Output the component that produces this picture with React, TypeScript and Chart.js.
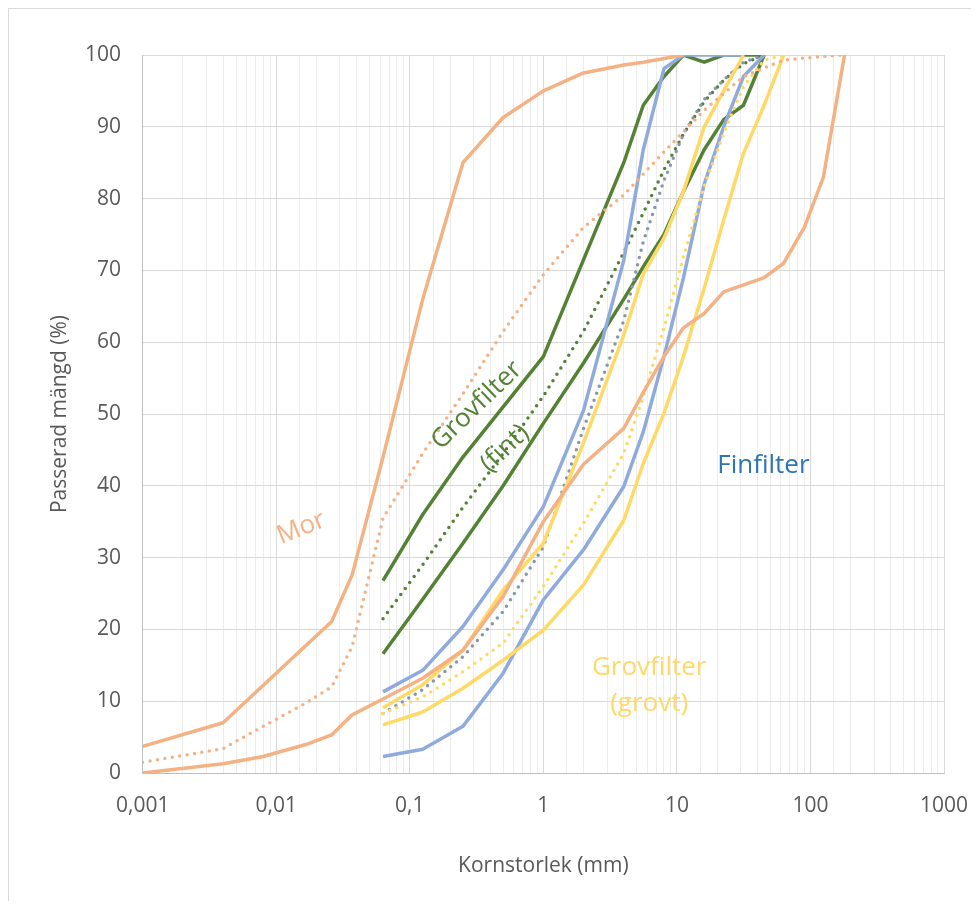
import React, { useEffect, useRef } from "react";
import { Chart, registerables } from "chart.js";

Chart.register(...registerables);

// ---- axis ticks ----
const xTickValues = [0.001, 0.01, 0.1, 1, 10, 100, 1000];
const xTickLabels = ["0,001", "0,01", "0,1", "1", "10", "100", "1000"];
const yMin = 0;
const yMax = 100;
const yStep = 10;

// ---- Mor (till) ----
const morFineSize = [0.001, 0.004, 0.026, 0.037, 0.063, 0.125, 0.25, 0.5, 1, 2, 4, 5.6, 11.2];
const morFineValue = [3.7, 7.0, 21.1, 27.6, 44, 66, 85, 91.3, 95, 97.5, 98.6, 99, 100];

const morCoarseSize = [0.001, 0.004, 0.008, 0.0169, 0.026, 0.037, 0.063, 0.125, 0.25, 0.5, 1, 2, 4, 5.6, 8, 11.2, 16, 22.4, 45, 63, 90, 125, 180];
const morCoarseValue = [0, 1.3, 2.3, 4.0, 5.3, 8.1, 10.3, 13.2, 17.1, 24.6, 35, 43, 48, 53, 58, 62, 64, 67, 69, 71, 76, 83, 100];

const morMeanSize = [0.001, 0.004, 0.008, 0.0169, 0.026, 0.037, 0.063, 0.125, 0.25, 0.5, 1, 2, 4, 8, 16, 31.5, 63, 125, 180];
const morMeanValue = [1.5, 3.4, 6.5, 9.8, 12, 17.6, 35.5, 44.5, 52.8, 61.5, 69.4, 76, 80.5, 86.5, 92.3, 97, 99.3, 99.8, 100];

// ---- Grovfilter (fint) ----
const gfFineSize = [0.063, 0.125, 0.25, 0.5, 1, 2, 4, 5.6, 8, 11.2, 16, 22.4, 31.5, 45];
const gfFineValue = [26.8, 36, 44, 51, 58, 71.5, 85, 93, 97, 100, 99, 100, 100, 100];

const gfCoarseSize = [0.063, 0.125, 0.25, 0.5, 1, 2, 4, 5.6, 8, 11.2, 16, 22.4, 31.5, 45];
const gfCoarseValue = [16.6, 24.2, 32, 40, 48.7, 57.1, 66, 70.5, 75, 81, 86.8, 91, 93, 100];

const gfMeanSize = [0.063, 0.125, 0.25, 0.5, 1, 2, 4, 5.6, 8, 11.2, 16, 22.4, 31.5, 45];
const gfMeanValue = [21.5, 29, 37, 44.5, 52.5, 61.5, 72.5, 78, 84, 89, 93.5, 96.5, 98.8, 100];

// ---- Finfilter ----
const ffFineSize = [0.063, 0.125, 0.25, 0.5, 1, 2, 4, 5.6, 8, 11.2, 16, 22.4, 31.5];
const ffFineValue = [11.3, 14.3, 20.4, 28.3, 37.1, 50.5, 71.4, 86.8, 98.1, 100, 100, 100, 100];

const ffCoarseSize = [0.063, 0.125, 0.25, 0.5, 1, 2, 4, 5.6, 8, 11.2, 16, 22.4, 31.5, 45];
const ffCoarseValue = [2.3, 3.3, 6.5, 13.9, 24.1, 31.1, 39.9, 47.5, 58, 69, 82, 90, 97, 100];

const ffMeanSize = [0.063, 0.125, 0.25, 0.5, 1, 2, 4, 5.6, 8, 11.2, 16, 22.4, 31.5, 45];
const ffMeanValue = [8.3, 11.6, 16.2, 22.5, 31.5, 48, 63, 74, 82.5, 89, 93.8, 96.5, 99, 100];

// ---- Grovfilter (grovt) ----
const gcFineSize = [0.063, 0.125, 0.25, 0.5, 1, 2, 4, 5.6, 8, 11.2, 16, 22.4, 31.5];
const gcFineValue = [9.1, 12.3, 17.1, 25.5, 32, 46, 61, 69.5, 74.5, 81, 90, 95, 100];

const gcCoarseSize = [0.063, 0.125, 0.25, 0.5, 1, 2, 4, 5.6, 8, 11.2, 16, 22.4, 31.5, 45, 63];
const gcCoarseValue = [6.7, 8.5, 11.8, 15.7, 19.9, 26.2, 35.2, 43.1, 50.1, 58, 67.5, 77, 86.3, 93, 100];

const gcMeanSize = [0.063, 0.125, 0.25, 0.5, 1, 2, 4, 5.6, 8, 11.2, 16, 22.4, 31.5, 45, 63];
const gcMeanValue = [8.3, 10.6, 14.1, 18.1, 26, 34.8, 44.5, 52.4, 62, 71.9, 81.7, 89.1, 95.6, 99.3, 100];

// ---- text labels ----
const xTitle = "Kornstorlek (mm)";
const yTitle = "Passerad mängd (%)";

const ORANGE = "#F4B183";
const GREEN = "#548235";
const BLUE = "#8FAADC";
const GREYBLUE = "#8497B0";
const YELLOW = "#FFD966";
const FONT = "'Open Sans', sans-serif";

const annotations = [
  { lines: ["Mor"], x: 0.0154, y: 34.1, rot: -22, color: ORANGE, size: 26 },
  { lines: ["Grovfilter"], x: 0.317, y: 51.2, rot: -44, color: GREEN, size: 26 },
  { lines: ["(fint)"], x: 0.516, y: 45.2, rot: -44, color: GREEN, size: 26 },
  { lines: ["Finfilter"], x: 44.4, y: 42.8, rot: 0, color: "#2E75B6", size: 26 },
  { lines: ["Grovfilter", "(grovt)"], x: 6.2, y: 12.2, rot: 0, color: YELLOW, size: 26 },
];

function pts(xs: number[], ys: number[]) {
  return xs.map((x, i) => ({ x, y: ys[i] }));
}

function solid(xs: number[], ys: number[], color: string) {
  return {
    data: pts(xs, ys),
    borderColor: color,
    backgroundColor: color,
    borderWidth: 3.5,
    showLine: true,
    pointRadius: 0,
    borderJoinStyle: "round",
    tension: 0,
  };
}

function dotted(xs: number[], ys: number[], color: string) {
  return {
    data: pts(xs, ys),
    borderColor: color,
    backgroundColor: color,
    borderWidth: 3.5,
    borderDash: [0, 7.5],
    borderCapStyle: "round",
    borderJoinStyle: "round",
    showLine: true,
    pointRadius: 0,
    tension: 0,
  };
}

const textPlugin = {
  id: "texts",
  afterDatasetsDraw(chart: any) {
    const { ctx, chartArea, scales } = chart;
    ctx.save();
    for (const a of annotations) {
      const px = scales.x.getPixelForValue(a.x);
      const py = scales.y.getPixelForValue(a.y);
      ctx.save();
      ctx.translate(px, py);
      ctx.rotate((a.rot * Math.PI) / 180);
      ctx.fillStyle = a.color;
      ctx.font = `${a.size}px ${FONT}`;
      ctx.textAlign = "center";
      ctx.textBaseline = "middle";
      const lh = a.size * 1.38;
      const n = a.lines.length;
      a.lines.forEach((t, i) => {
        ctx.fillText(t, 0, (i - (n - 1) / 2) * lh);
      });
      ctx.restore();
    }
    // axis titles
    ctx.fillStyle = "#595959";
    ctx.font = `21px ${FONT}`;
    ctx.textAlign = "center";
    ctx.textBaseline = "middle";
    ctx.fillText(xTitle, (chartArea.left + chartArea.right) / 2, 857);
    ctx.save();
    ctx.translate(51, (chartArea.top + chartArea.bottom) / 2);
    ctx.rotate(-Math.PI / 2);
    ctx.fillText(yTitle, 0, 0);
    ctx.restore();
    ctx.restore();
  },
};

function isDecade(v: number) {
  const l = Math.log10(v);
  return Math.abs(l - Math.round(l)) < 1e-6;
}

export default function App() {
  const ref = useRef<HTMLCanvasElement>(null);
  useEffect(() => {
    if (!ref.current) return;
    const chart = new Chart(ref.current, {
      type: "scatter",
      data: {
        datasets: [
          solid(morFineSize, morFineValue, ORANGE),
          solid(morCoarseSize, morCoarseValue, ORANGE),
          dotted(morMeanSize, morMeanValue, ORANGE),
          solid(gcFineSize, gcFineValue, YELLOW),
          solid(gcCoarseSize, gcCoarseValue, YELLOW),
          dotted(gcMeanSize, gcMeanValue, YELLOW),
          solid(ffFineSize, ffFineValue, BLUE),
          solid(ffCoarseSize, ffCoarseValue, BLUE),
          dotted(ffMeanSize, ffMeanValue, GREYBLUE),
          solid(gfFineSize, gfFineValue, GREEN),
          solid(gfCoarseSize, gfCoarseValue, GREEN),
          dotted(gfMeanSize, gfMeanValue, GREEN),
        ] as any,
      },
      options: {
        responsive: false,
        animation: false,
        events: [],
        layout: { padding: { left: 0, top: 46, right: 27, bottom: 0 } },
        plugins: { legend: { display: false }, tooltip: { enabled: false } },
        scales: {
          x: {
            type: "logarithmic",
            min: xTickValues[0],
            max: xTickValues[xTickValues.length - 1],
            grid: {
              drawTicks: false,
              lineWidth: 1,
              color: (c: any) => {
                const v = c.tick ? c.tick.value : null;
                if (v == null) return "#EDEDED";
                return isDecade(v) ? "#D9D9D9" : "#EDEDED";
              },
            },
            border: { color: "#BFBFBF", width: 1 },
            ticks: {
              autoSkip: false,
              maxRotation: 0,
              minRotation: 0,
              padding: 20,
              color: "#595959",
              font: { family: FONT, size: 21 },
              callback: (v: any) => {
                const val = Number(v);
                const i = xTickValues.findIndex(
                  (t) => Math.abs(Math.log10(val) - Math.log10(t)) < 1e-6
                );
                return i >= 0 ? xTickLabels[i] : "";
              },
            },
            afterFit: (s: any) => {
              s.height = 120;
              s.paddingLeft = 0;
              s.paddingRight = 0;
            },
          },
          y: {
            type: "linear",
            min: yMin,
            max: yMax,
            grid: { drawTicks: false, color: "#D9D9D9", lineWidth: 1 },
            border: { color: "#BFBFBF", width: 1 },
            ticks: {
              stepSize: yStep,
              padding: 21.7,
              color: "#595959",
              font: { family: FONT, size: 21 },
            },
            afterFit: (s: any) => {
              s.width = 133.7;
              s.paddingTop = 0;
              s.paddingBottom = 0;
            },
          },
        },
      } as any,
      plugins: [textPlugin],
    });
    return () => chart.destroy();
  }, []);

  return (
    <div style={{ width: 963, height: 893, overflow: "hidden" }}>
      <div
        style={{
          position: "relative",
          width: 1000,
          height: 960,
          border: "1px solid #D9D9D9",
          boxSizing: "border-box",
          background: "#fff",
        }}
      >
        <canvas
          ref={ref}
          width={962}
          height={884}
          style={{ position: "absolute", left: 0, top: 0, width: 962, height: 884 }}
        />
      </div>
    </div>
  );
}
